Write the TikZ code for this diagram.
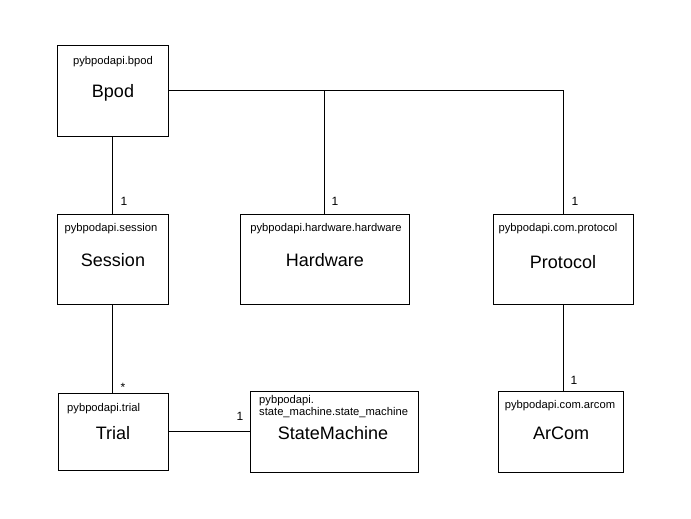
\documentclass[tikz,border=0pt]{standalone}
\usepackage{fontspec}
\setmainfont{Liberation Sans}
\begin{document}
\begin{tikzpicture}[x=1pt,y=-1pt,
  box/.style={draw,line width=1pt,inner sep=0pt,minimum width=#1},
  pkg/.style={font=\fontsize{11.2}{13}\selectfont,inner sep=0pt},
  cls/.style={font=\fontsize{18}{21}\selectfont,inner sep=0pt},
  mult/.style={font=\fontsize{12}{14}\selectfont,inner sep=0pt},
  conn/.style={line width=1pt}]
\useasboundingbox[fill=white] (0,0) rectangle (691,519);
\node[box=111pt,minimum height=90pt] (bpod) at (112.5,91) {};
\node[box=111pt,minimum height=90pt] (session) at (112.5,259) {};
\node[box=169pt,minimum height=90pt] (hardware) at (324.5,259) {};
\node[box=140pt,minimum height=90pt] (protocol) at (563,259) {};
\node[box=110pt,minimum height=77pt] (trial) at (113,431.5) {};
\node[box=168pt,minimum height=81pt] (sm) at (334,431.5) {};
\node[box=125pt,minimum height=81pt] (arcom) at (560.5,431.5) {};
% texts
\node[pkg] (bpodp) at (113,62) {pybpodapi.bpod};
\node[cls] (bpodc) at (113,93) {Bpod};
\node[pkg] (sessp) at (111,229) {pybpodapi.session};
\node[cls] (sessc) at (113,260) {Session};
\node[pkg] (hwp) at (326,229) {pybpodapi.hardware.hardware};
\node[cls] (hwc) at (325,260) {Hardware};
\node[pkg] (protp) at (558,229) {pybpodapi.com.protocol};
\node[cls] (protc) at (563,262) {Protocol};
\node[pkg,anchor=west] (trialp) at (67,409) {pybpodapi.trial};
\node[cls] (trialc) at (113,433) {Trial};
\node[pkg,anchor=west] (smp1) at (259,401) {pybpodapi.};
\node[pkg,anchor=west] (smp2) at (259,413) {state\_machine.state\_machine};
\node[cls] (smc) at (333,433) {StateMachine};
\node[pkg] (arcp) at (560,406) {pybpodapi.com.arcom};
\node[cls] (arcc) at (561,433) {ArCom};
% connectors
\draw[conn] (bpod.east) -| (protocol.north);
\draw[conn] (hardware.north) -- (hardware.north |- bpod.east);
\draw[conn] (bpod.south) -- (session.north);
\draw[conn] (session.south) -- (session.south |- trial.north);
\draw[conn] (trial.east) -- (sm.west |- trial.east);
\draw[conn] (protocol.south) -- (protocol.south |- arcom.north);
% multiplicities
\node[mult] (m1) at (124,201) {1};
\node[mult] (m2) at (335,201) {1};
\node[mult] (m3) at (575,201) {1};
\node[mult] (m4) at (574,380) {1};
\node[mult] (m5) at (240,416) {1};
\node[mult] (m6) at (123,387) {*};
\end{tikzpicture}
\end{document}
